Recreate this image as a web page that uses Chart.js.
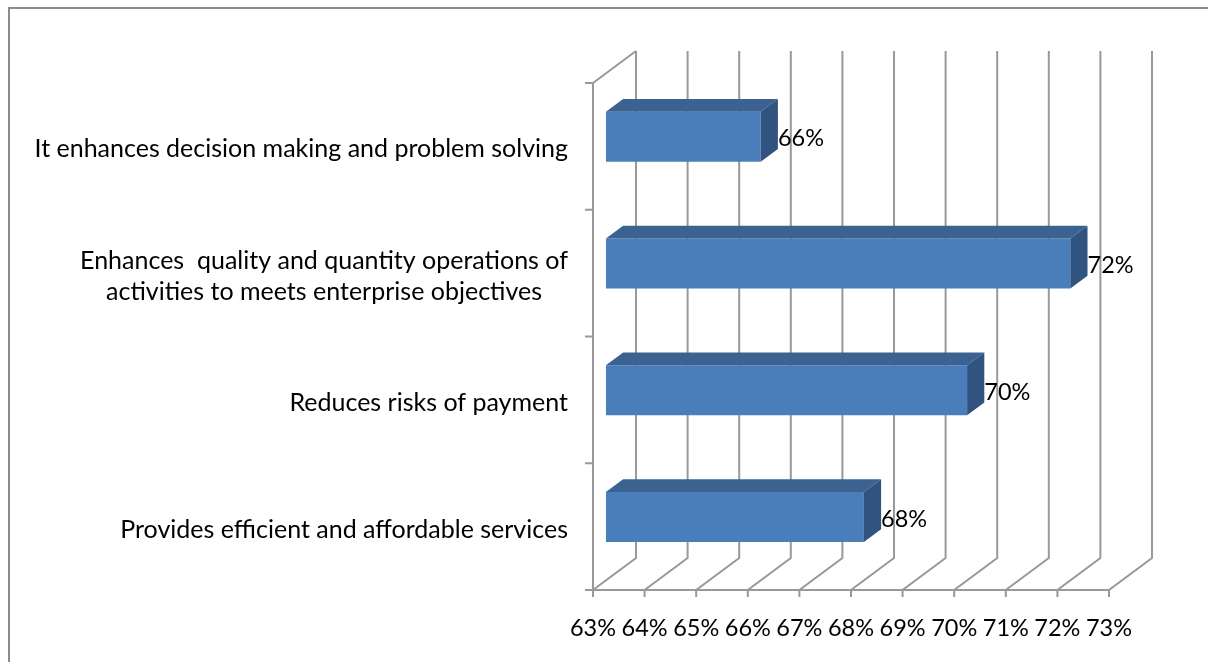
<!DOCTYPE html>
<html>
<head>
<meta charset="utf-8">
<script src="https://cdn.jsdelivr.net/npm/chart.js@4"></script>
<style>
  html, body { margin: 0; padding: 0; background: #fff; }
  #wrap { width: 1208px; height: 662px; position: relative; }
</style>
</head>
<body>
<div id="wrap"><canvas id="chart" width="1208" height="662"></canvas></div>
<script>
// categories (top to bottom) and their shares
const categories = [
  ['It enhances decision making and problem solving'],
  ['Enhances  quality and quantity operations of', 'activities to meets enterprise objectives'],
  ['Reduces risks of payment'],
  ['Provides efficient and affordable services']
];
const percentValues = [66, 72, 70, 68];
const axisMin = 63;
const axisMax = 73;
const axisStep = 1;

// 3d box look
const DEPTH = { x: 43, y: -32 };
const BAR_FRONT = 0.3, BAR_BACK = 0.7;
const GRID_COLOR = '#999999';
const BAR_COLOR = '#4a7ebb';
const BAR_TOP = '#3c6292';
const BAR_SIDE = '#30537f';
const FONT_FAMILY = 'Lato, "Open Sans", sans-serif';
const FONT_SIZE = 25;
const NUM_SIZE = 23.5;

const box3d = {
  id: 'box3d',
  beforeDraw(chart) {
    const { ctx, chartArea: a, scales: { x, y } } = chart;
    ctx.save();
    // outer frame
    ctx.strokeStyle = '#8c8c8c';
    ctx.lineWidth = 2;
    ctx.strokeRect(9, 8, chart.width + 20, chart.height + 20);

    ctx.strokeStyle = GRID_COLOR;
    ctx.lineWidth = 2;
    ctx.lineJoin = 'miter';
    ctx.beginPath();
    // tick marks, floor lines and back wall gridlines
    x.ticks.forEach(t => {
      const px = x.getPixelForValue(t.value);
      ctx.moveTo(px, a.bottom + 7);
      ctx.lineTo(px, a.bottom);
      ctx.lineTo(px + DEPTH.x, a.bottom + DEPTH.y);
      ctx.lineTo(px + DEPTH.x, a.top + DEPTH.y);
    });
    ctx.moveTo(a.left, a.bottom);
    ctx.lineTo(a.right, a.bottom);
    // side wall
    ctx.moveTo(a.left, a.bottom);
    ctx.lineTo(a.left, a.top);
    ctx.lineTo(a.left + DEPTH.x, a.top + DEPTH.y);
    // category separators on the side wall
    const band = (a.bottom - a.top) / categories.length;
    for (let i = 0; i <= categories.length; i++) {
      const py = i < categories.length ? y.getPixelForValue(i) - band / 2 : a.bottom;
      ctx.moveTo(a.left - 8, py);
      ctx.lineTo(a.left, py);
    }
    ctx.stroke();

    // category labels, each block centred on its widest line
    ctx.fillStyle = '#000';
    ctx.font = FONT_SIZE + 'px ' + FONT_FAMILY;
    ctx.textAlign = 'center';
    ctx.textBaseline = 'middle';
    const right = a.left - 25;
    const lineH = 31;
    categories.forEach((lines, i) => {
      const w = Math.max(...lines.map(l => ctx.measureText(l).width));
      const cx = right - w / 2;
      const cy = y.getPixelForValue(i) + 3;
      lines.forEach((l, j) => {
        ctx.fillText(l, cx, cy + (j - (lines.length - 1) / 2) * lineH);
      });
    });
    ctx.restore();
  },
  beforeDatasetsDraw(chart) {
    // bars sit in the middle of the depth
    chart.ctx.save();
    chart.ctx.translate(DEPTH.x * BAR_FRONT, DEPTH.y * BAR_FRONT);
  },
  afterDatasetsDraw(chart) {
    const ctx = chart.ctx;
    ctx.restore();
    const fx = DEPTH.x * BAR_FRONT, fy = DEPTH.y * BAR_FRONT;
    const bx = DEPTH.x * (BAR_BACK - BAR_FRONT), by = DEPTH.y * (BAR_BACK - BAR_FRONT);
    ctx.save();
    chart.getDatasetMeta(0).data.forEach((bar, i) => {
      const p = bar.getProps(['x', 'y', 'base', 'height'], true);
      const l = p.base + fx, r = p.x + fx;
      const t = p.y - p.height / 2 + fy, b = p.y + p.height / 2 + fy;
      ctx.fillStyle = BAR_TOP;
      ctx.beginPath();
      ctx.moveTo(l, t);
      ctx.lineTo(l + bx, t + by);
      ctx.lineTo(r + bx, t + by);
      ctx.lineTo(r, t);
      ctx.closePath();
      ctx.fill();
      ctx.fillStyle = BAR_SIDE;
      ctx.beginPath();
      ctx.moveTo(r, t);
      ctx.lineTo(r + bx, t + by);
      ctx.lineTo(r + bx, b + by);
      ctx.lineTo(r, b);
      ctx.closePath();
      ctx.fill();
      // value label
      ctx.fillStyle = '#000';
      ctx.font = NUM_SIZE + 'px ' + FONT_FAMILY;
      ctx.textAlign = 'left';
      ctx.textBaseline = 'middle';
      ctx.fillText(percentValues[i] + '%', r + bx, p.y + fy + 2);
    });
    ctx.restore();
  }
};

new Chart(document.getElementById('chart'), {
  type: 'bar',
  data: {
    labels: categories,
    datasets: [{
      data: percentValues,
      base: axisMin,
      backgroundColor: BAR_COLOR,
      borderWidth: 0,
      categoryPercentage: 1,
      barPercentage: 0.395
    }]
  },
  options: {
    indexAxis: 'y',
    responsive: false,
    animation: false,
    devicePixelRatio: 1,
    layout: { padding: { left: 593, top: 83, right: 99, bottom: 0 } },
    plugins: { legend: { display: false }, tooltip: { enabled: false } },
    scales: {
      x: {
        min: axisMin,
        max: axisMax,
        grid: { display: false, drawTicks: false },
        border: { display: false },
        ticks: {
          stepSize: axisStep,
          padding: 24,
          color: '#000',
          font: { family: FONT_FAMILY, size: NUM_SIZE },
          maxRotation: 0,
          autoSkip: false,
          callback: v => v + '%'
        },
        afterFit: s => { s.height = 72; }
      },
      y: {
        grid: { display: false },
        border: { display: false },
        ticks: { display: false },
        afterFit: s => { s.width = 0; }
      }
    }
  },
  plugins: [box3d]
});
</script>
</body>
</html>
